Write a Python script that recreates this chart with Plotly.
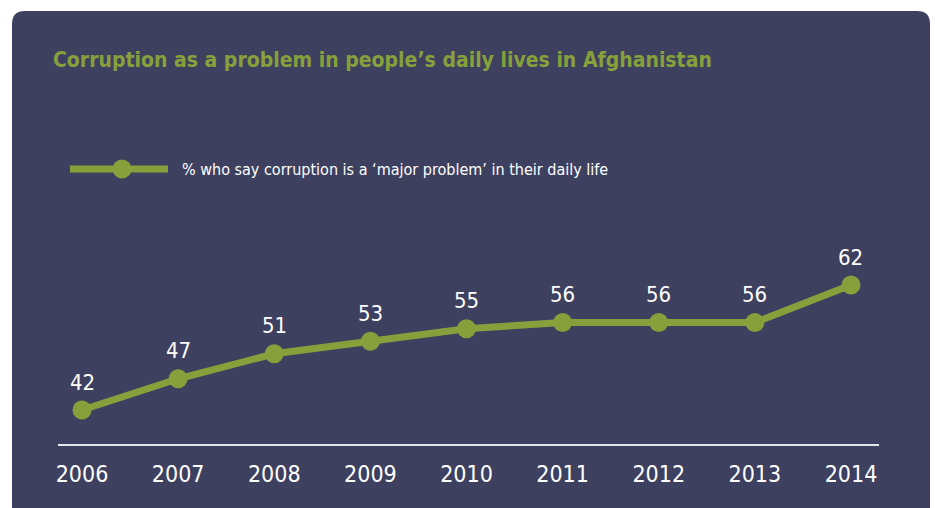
import plotly.graph_objects as go

# Survey results: share of Afghans calling corruption a major problem
years = [2006, 2007, 2008, 2009, 2010, 2011, 2012, 2013, 2014]
pct_major_problem = [42, 47, 51, 53, 55, 56, 56, 56, 62]
year_labels = [str(y) for y in years]

title_text = "Corruption as a problem in people\u2019s daily lives in Afghanistan"
legend_text = "% who say corruption is a \u2018major problem\u2019 in their daily life"

W, H = 935, 508
PANEL = "#3e405f"
GREEN = "#87a03b"
FONT = "Liberation Sans Narrow, DejaVu Sans Condensed, Arial Narrow, sans-serif"


def px(x):
    return x / W


def py(y):
    return 1 - y / H


fig = go.Figure()

fig.add_trace(go.Scatter(
    x=years,
    y=pct_major_problem,
    mode="lines+markers",
    line=dict(color=GREEN, width=7),
    marker=dict(color=GREEN, size=19),
    showlegend=False,
    hoverinfo="x+y",
))

# Value labels above each point
for yr, v in zip(years, pct_major_problem):
    fig.add_annotation(
        x=yr, y=v, xref="x", yref="y",
        text=str(v), showarrow=False,
        yanchor="middle", yshift=28,
        font=dict(family=FONT, size=22, color="white"),
    )

# Rounded dark panel behind the chart
x0, x1, yt, yb, r = 12, 930, 11, 520, 13
path = (
    f"M {px(x0)},{py(yb)} L {px(x0)},{py(yt + r)} "
    f"Q {px(x0)},{py(yt)} {px(x0 + r)},{py(yt)} "
    f"L {px(x1 - r)},{py(yt)} Q {px(x1)},{py(yt)} {px(x1)},{py(yt + r)} "
    f"L {px(x1)},{py(yb)} Z"
)
shapes = [
    dict(type="path", path=path, xref="paper", yref="paper",
         fillcolor=PANEL, line=dict(width=0), layer="below"),
    # legend sample: line with a marker in the middle
    dict(type="line", xref="paper", yref="paper",
         x0=px(70), x1=px(168), y0=py(169), y1=py(169),
         line=dict(color=GREEN, width=7)),
    dict(type="circle", xref="paper", yref="paper",
         x0=px(122 - 9.5), x1=px(122 + 9.5), y0=py(169 + 9.5), y1=py(169 - 9.5),
         fillcolor=GREEN, line=dict(width=0)),
]

fig.add_annotation(
    x=px(51), y=py(60), xref="paper", yref="paper",
    xanchor="left", yanchor="middle", showarrow=False,
    text=f"<b>{title_text}</b>",
    font=dict(family=FONT, size=21, color=GREEN),
)
fig.add_annotation(
    x=px(180), y=py(169), xref="paper", yref="paper",
    xanchor="left", yanchor="middle", showarrow=False,
    text=legend_text,
    font=dict(family=FONT, size=16, color="white"),
)

# Axis placement: baseline from x=58 to 879 px at y=444 px
span = 96.1
fig.update_layout(
    template="none",
    width=W, height=H,
    margin=dict(l=0, r=0, t=0, b=0, pad=0, autoexpand=False),
    paper_bgcolor="white",
    plot_bgcolor="rgba(0,0,0,0)",
    shapes=shapes,
    xaxis=dict(
        domain=[px(58), px(879)],
        range=[2006 - 24 / span, 2014 + 28 / span],
        tickmode="array", tickvals=years, ticktext=year_labels,
        showgrid=False, zeroline=False, automargin=False,
        showline=True, linecolor="#e6e6ee", linewidth=1.5,
        ticks="", ticklabelstandoff=9,
        tickfont=dict(family=FONT, size=23, color="white"),
    ),
    yaxis=dict(
        domain=[py(444), py(240)],
        range=[42 - 34 / 6.25, 42 + 170 / 6.25],
        visible=False, automargin=False,
    ),
)

fig.write_html("out.html")
